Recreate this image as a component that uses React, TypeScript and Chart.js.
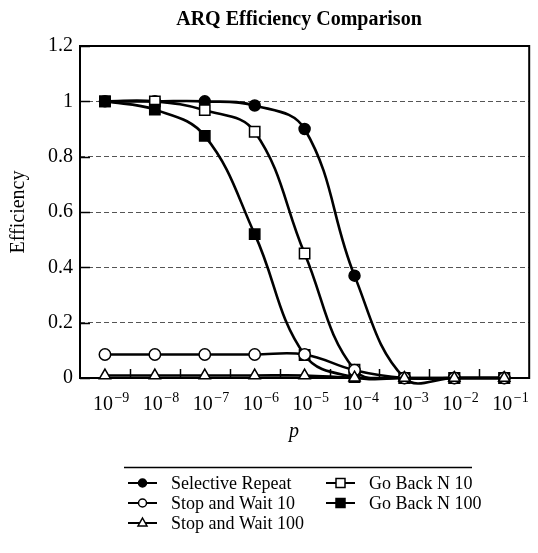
import React, { useEffect, useRef } from "react";
import { Chart, registerables } from "chart.js";

Chart.register(...registerables);

// ---- data ----
const exponents = [-9, -8, -7, -6, -5, -4, -3, -2, -1];
const categories = exponents.map((e) => `10^${e}`);

const selectiveRepeat = [1, 1, 1, 0.985, 0.9, 0.37, 0, 0, 0];
const goBackN10 = [1, 1, 0.968, 0.89, 0.45, 0.03, 0, 0, 0];
const goBackN100 = [1, 0.97, 0.875, 0.52, 0.083, 0.003, 0, 0, 0];
const stopAndWait10 = [0.085, 0.085, 0.085, 0.085, 0.085, 0.028, 0, 0, 0];
const stopAndWait100 = [0.009, 0.009, 0.009, 0.009, 0.009, 0.001, 0, 0, 0];

const yTickValues = [0, 0.2, 0.4, 0.6, 0.8, 1, 1.2];
const yTickLabels = ["0", "0.2", "0.4", "0.6", "0.8", "1", "1.2"];

const titleText = "ARQ Efficiency Comparison";
const xTitle = "p";
const yTitle = "Efficiency";

const seriesLabels = [
  "Selective Repeat",
  "Go Back N 10",
  "Stop and Wait 10",
  "Go Back N 100",
  "Stop and Wait 100",
];

// ---- styles ----
const SERIF = "'Liberation Serif', 'Times New Roman', Times, serif";

type Style = { pointStyle: string; fill: string; radius: number; order: number };
const styles: Style[] = [
  { pointStyle: "circle", fill: "#000", radius: 5.5, order: 4 },
  { pointStyle: "rect", fill: "#fff", radius: 7.3, order: 3 },
  { pointStyle: "circle", fill: "#fff", radius: 5.7, order: 1 },
  { pointStyle: "rect", fill: "#000", radius: 7.3, order: 2 },
  { pointStyle: "triangle", fill: "#fff", radius: 6.5, order: 0 },
];
const seriesData = [selectiveRepeat, goBackN10, stopAndWait10, goBackN100, stopAndWait100];

function drawMarker(ctx: CanvasRenderingContext2D, style: string, x: number, y: number, r: number, fill: string) {
  ctx.beginPath();
  if (style === "circle") {
    ctx.arc(x, y, r, 0, Math.PI * 2);
  } else if (style === "rect") {
    ctx.rect(x - r, y - r, 2 * r, 2 * r);
  } else {
    ctx.moveTo(x, y - r);
    ctx.lineTo(x + r * 0.9, y + r * 0.6);
    ctx.lineTo(x - r * 0.9, y + r * 0.6);
    ctx.closePath();
  }
  ctx.fillStyle = fill;
  ctx.fill();
  ctx.lineWidth = 1.5;
  ctx.strokeStyle = "#000";
  ctx.stroke();
}

const decorPlugin = {
  id: "decor",
  beforeDatasetsDraw(chart: any) {
    const { ctx, chartArea: ca, scales } = chart;
    const xs = scales.x;
    const ys = scales.y;
    ctx.save();
    ctx.strokeStyle = "#000";
    ctx.lineWidth = 2;
    ctx.strokeRect(ca.left, ca.top, ca.right - ca.left, ca.bottom - ca.top);
    // inner y ticks
    ctx.lineWidth = 1.5;
    yTickValues.forEach((v) => {
      const y = Math.round(ys.getPixelForValue(v)) + 0.5;
      ctx.beginPath();
      ctx.moveTo(ca.left, y);
      ctx.lineTo(ca.left + 10, y);
      ctx.stroke();
    });
    // inner x ticks at category boundaries
    for (let i = 0; i < categories.length - 1; i++) {
      const x = Math.round((xs.getPixelForValue(i) + xs.getPixelForValue(i + 1)) / 2) + 0.5;
      ctx.beginPath();
      ctx.moveTo(x, ca.bottom);
      ctx.lineTo(x, ca.bottom - 9);
      ctx.stroke();
    }
    ctx.restore();
  },
  afterDraw(chart: any) {
    const { ctx, chartArea: ca, scales } = chart;
    const xs = scales.x;
    ctx.save();
    ctx.fillStyle = "#000";
    // title
    ctx.font = `bold 20px ${SERIF}`;
    ctx.textAlign = "center";
    ctx.textBaseline = "middle";
    ctx.fillText(titleText, 299, 20);

    // x tick labels 10^e
    ctx.textAlign = "left";
    ctx.textBaseline = "alphabetic";
    exponents.forEach((e, i) => {
      const x = xs.getPixelForValue(i);
      ctx.font = `20px ${SERIF}`;
      const base = "10";
      const w1 = ctx.measureText(base).width;
      const start = x - w1 * 0.6;
      ctx.fillText(base, start, ca.bottom + 32);
      ctx.font = `14px ${SERIF}`;
      ctx.fillText(`\u2212${-e}`, start + w1 + 1.5, ca.bottom + 24);
    });

    // x title
    ctx.font = `italic 20px ${SERIF}`;
    ctx.textAlign = "center";
    ctx.textBaseline = "middle";
    ctx.fillText(xTitle, 294, ca.bottom + 54);

    // legend
    ctx.strokeStyle = "#000";
    ctx.lineWidth = 1.5;
    ctx.beginPath();
    ctx.moveTo(124, 467.5);
    ctx.lineTo(472, 467.5);
    ctx.stroke();
    const cols = [128, 326];
    const rows = [483, 503, 523];
    const place = [
      [0, 0],
      [1, 0],
      [0, 1],
      [1, 1],
      [0, 2],
    ];
    seriesLabels.forEach((lab, k) => {
      const [c, r] = place[k];
      const x0 = cols[c];
      const y = rows[r];
      const st = styles[k];
      ctx.strokeStyle = "#000";
      ctx.lineWidth = 2;
      ctx.beginPath();
      ctx.moveTo(x0, y);
      ctx.lineTo(x0 + 29, y);
      ctx.stroke();
      const mr = st.pointStyle === "rect" ? 4.5 : st.pointStyle === "triangle" ? 5 : 4;
      drawMarker(ctx, st.pointStyle, x0 + 14.5, y, mr, st.fill);
      ctx.fillStyle = "#000";
      ctx.font = `18px ${SERIF}`;
      ctx.textAlign = "left";
      ctx.textBaseline = "middle";
      ctx.fillText(lab, x0 + 43, y + 1);
    });
    ctx.restore();
  },
};

export default function App() {
  const ref = useRef<HTMLCanvasElement>(null);

  useEffect(() => {
    const canvas = ref.current;
    if (!canvas) return;
    const datasets = seriesLabels.map((label, k) => ({
      label,
      data: seriesData[k],
      borderColor: "#000",
      borderWidth: 2.6,
      backgroundColor: styles[k].fill,
      pointStyle: styles[k].pointStyle,
      pointRadius: styles[k].radius,
      pointBackgroundColor: styles[k].fill,
      pointBorderColor: "#000",
      pointBorderWidth: 1.5,
      tension: 0.4,
      fill: false,
      clip: false as any,
      order: styles[k].order,
    }));

    const chart = new Chart(canvas, {
      type: "line",
      data: { labels: categories, datasets },
      plugins: [decorPlugin],
      options: {
        responsive: false,
        animation: false,
        devicePixelRatio: 1,
        layout: { padding: { top: 46, right: 5, bottom: 100, left: 0 } },
        elements: { line: { capBezierPoints: false } },
        plugins: {
          legend: { display: false },
          title: { display: false },
          tooltip: { enabled: false },
        },
        scales: {
          x: {
            type: "category",
            offset: true,
            grid: { display: false, drawTicks: false },
            border: { display: false },
            ticks: { display: false },
            afterFit: (scale: any) => {
              scale.height = 75;
            },
          },
          y: {
            min: 0,
            max: 1.2,
            afterBuildTicks: (scale: any) => {
              scale.ticks = yTickValues.map((v) => ({ value: v }));
            },
            ticks: {
              color: "#000",
              font: { family: SERIF, size: 20 },
              padding: 7,
              callback: (v: any) => {
                const idx = yTickValues.findIndex((t) => Math.abs(t - Number(v)) < 1e-9);
                return idx >= 0 ? yTickLabels[idx] : "";
              },
            },
            grid: { color: "#555", lineWidth: 1, drawTicks: false },
            border: { display: false, dash: [5, 3] },
            title: {
              display: true,
              text: yTitle,
              color: "#000",
              font: { family: SERIF, size: 20 },
              padding: { top: 7, bottom: 0 },
            },
            afterFit: (scale: any) => {
              scale.width = 80;
            },
          },
        },
      } as any,
    });
    return () => chart.destroy();
  }, []);

  return (
    <div style={{ position: "absolute", left: 0, top: 0, width: 538, height: 553, background: "#fff" }}>
      <canvas ref={ref} width={538} height={553} style={{ display: "block", width: 538, height: 553 }} />
    </div>
  );
}
